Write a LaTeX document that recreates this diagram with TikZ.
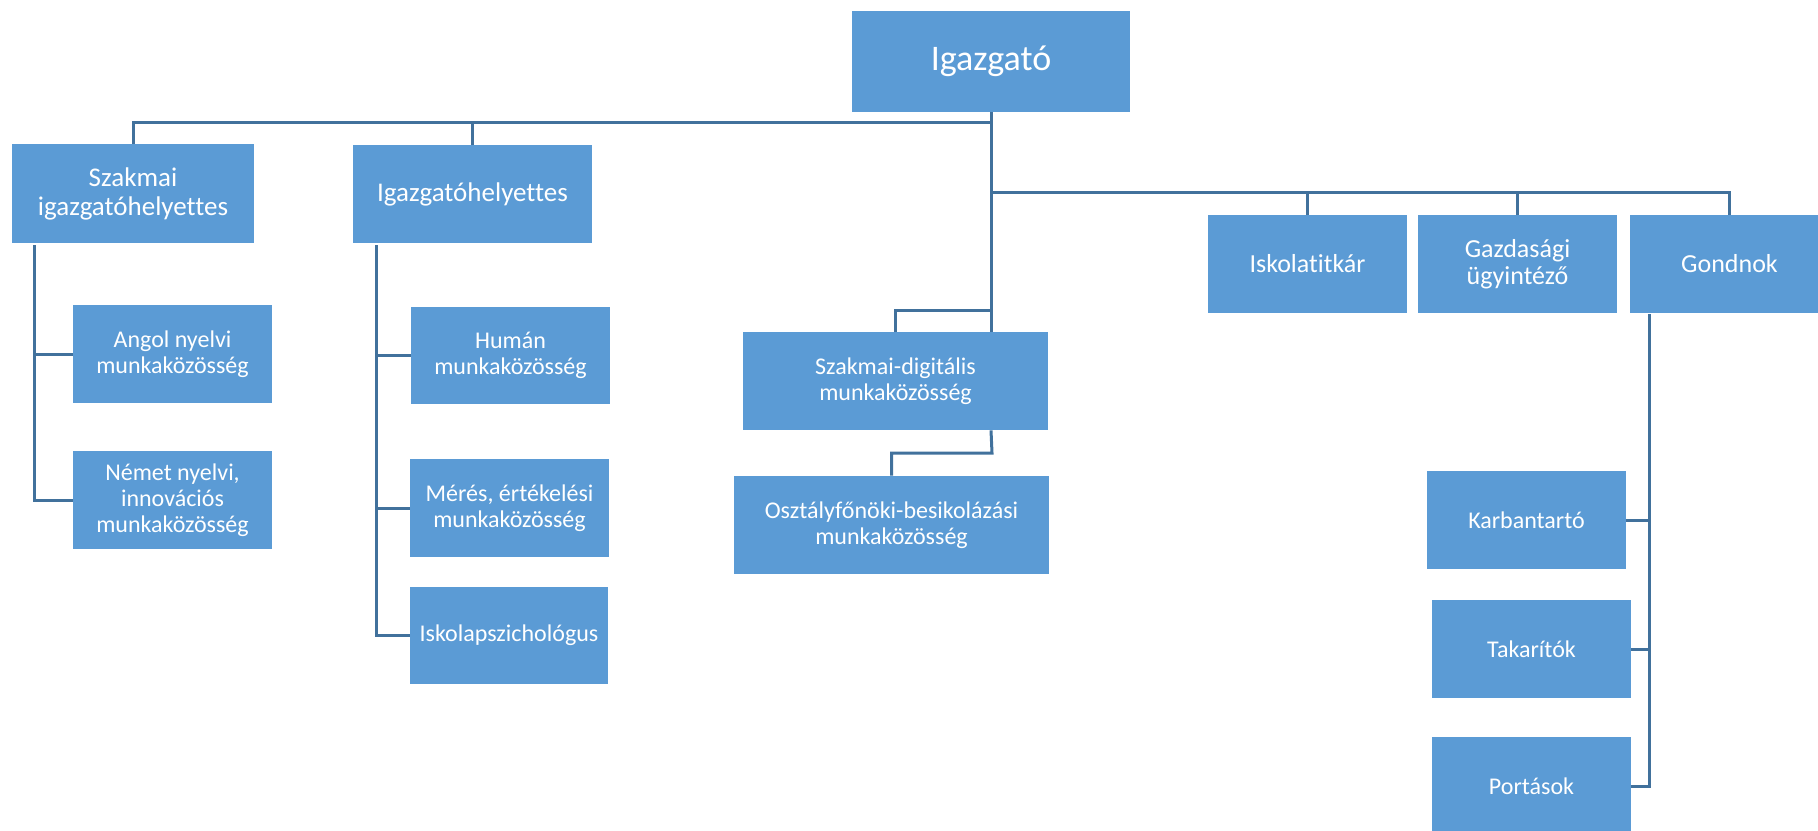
\documentclass[tikz,border=0pt]{standalone}
\usepackage{fontspec}
\setmainfont{Carlito}[Ligatures=NoCommon]
\definecolor{boxblue}{HTML}{5B9BD5}
\definecolor{linkblue}{HTML}{41719C}
\begin{document}
\begin{tikzpicture}[x=0.5pt,y=-0.5pt,
  box/.style={fill=boxblue, text=white, align=center, inner sep=0pt,
    minimum width=99.5pt, minimum height=49pt, font=\fontsize{12}{13}\selectfont},
  bigbox/.style={box, font=\fontsize{13.5}{14.5}\selectfont},
  midbox/.style={box, font=\fontsize{13}{13.5}\selectfont},
  link/.style={draw=linkblue, line width=1.5pt}]
\useasboundingbox (0,0) rectangle (1818,830);
% nodes
\node[box, minimum width=139pt, minimum height=50.5pt, font=\fontsize{18}{20}\selectfont] (ig) at (991,61.5) {Igazgató};
\node[bigbox, minimum width=121pt, minimum height=49.5pt] (szig) at (133,193.5) {Szakmai\\igazgatóhelyettes};
\node[bigbox, minimum width=119.5pt] (igh) at (472.5,194) {Igazgatóhelyettes};
\node[box] (angol) at (172.5,354) {Angol nyelvi\\munkaközösség};
\node[box] (nemet) at (172.5,500) {Német nyelvi,\\innovációs\\munkaközösség};
\node[box, minimum height=48.5pt] (human) at (510.5,355.5) {Humán\\munkaközösség};
\node[box] (meres) at (509.5,508) {Mérés, értékelési\\munkaközösség};
\node[box, minimum width=99pt, minimum height=48.5pt] (pszich) at (509,635.5) {Iskolapszichológus};
\node[box, minimum width=152.5pt] (szd) at (895.5,381) {Szakmai-digitális\\munkaközösség};
\node[box, minimum width=157.5pt] (osz) at (891.5,525) {Osztályfőnöki-besikolázási\\munkaközösség};
\node[midbox] (titkar) at (1307.5,264) {Iskolatitkár};
\node[midbox] (gazd) at (1517.5,264) {Gazdasági\\ügyintéző};
\node[midbox] (gondnok) at (1729.5,264) {Gondnok};
\node[box] (karb) at (1526.5,520) {Karbantartó};
\node[box] (takar) at (1531.5,649) {Takarítók};
\node[box] (porta) at (1531.5,786) {Portások};
% junctions
\coordinate (j1) at (991,122);
\coordinate (j2) at (991,192.5);
\coordinate (j3) at (991,310);
\coordinate (a1) at (34,245);
\coordinate (b1) at (376,245);
\coordinate (d1) at (szd.south -| j3);
\coordinate (d2) at (992,453);
\coordinate (g1) at (1649,314);
% connectors
\draw[link] (ig.south) -- (ig.south |- szd.north);
\draw[link] (szig.north) |- (j1);
\draw[link] (igh.north) -- (igh.north |- j1);
\draw[link] (j2) -| (gondnok.north);
\draw[link] (titkar.north) -- (titkar.north |- j2);
\draw[link] (gazd.north) -- (gazd.north |- j2);
\draw[link] (j3) -| (szd.north);
\draw[link] (a1) |- (nemet.west);
\draw[link] (a1 |- angol.west) -- (angol.west);
\draw[link] (b1) |- (pszich.west);
\draw[link] (b1 |- human.west) -- (human.west);
\draw[link] (b1 |- meres.west) -- (meres.west);
\draw[link] (d1) -- (d2) -| (osz.north);
\draw[link] (g1) |- (porta.east);
\draw[link] (g1 |- karb.east) -- (karb.east);
\draw[link] (g1 |- takar.east) -- (takar.east);
\end{tikzpicture}
\end{document}
